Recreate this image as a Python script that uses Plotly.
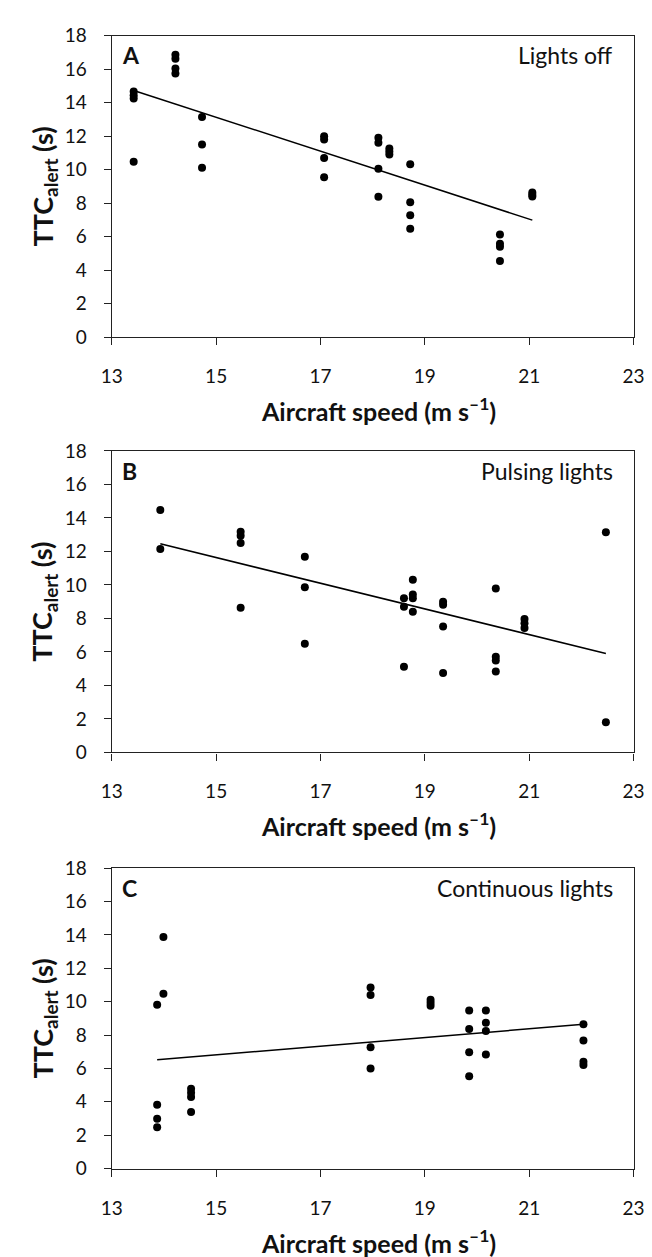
import numpy as np
import plotly.graph_objects as go

# ---- data ----
speed_A = [13.42, 13.42, 13.42, 13.42,
           14.22, 14.22, 14.22, 14.22,
           14.73, 14.73, 14.73,
           17.07, 17.07, 17.07, 17.07,
           18.11, 18.11, 18.11, 18.11,
           18.32, 18.32, 18.32,
           18.72, 18.72, 18.72, 18.72,
           20.44, 20.44, 20.44, 20.44,
           21.06, 21.06, 21.06]
ttc_A = [14.67, 14.44, 14.25, 10.47,
         16.86, 16.62, 16.04, 15.75,
         13.15, 11.5, 10.12,
         12.0, 11.8, 10.7, 9.55,
         11.9, 11.6, 10.06, 8.38,
         11.27, 11.08, 10.9,
         10.33, 8.05, 7.27, 6.47,
         6.13, 5.57, 5.4, 4.55,
         8.64, 8.5, 8.4]

speed_B = [13.93, 13.93,
           15.47, 15.47, 15.47, 15.47,
           16.70, 16.70, 16.70,
           18.60, 18.60, 18.60,
           18.77, 18.77, 18.77, 18.77,
           19.35, 19.35, 19.35, 19.35,
           20.36, 20.36, 20.36, 20.36,
           20.91, 20.91, 20.91,
           22.47, 22.47]
ttc_B = [14.48, 12.15,
         13.17, 12.93, 12.5, 8.63,
         11.68, 9.86, 6.48,
         9.21, 8.69, 5.11,
         10.31, 9.43, 9.2, 8.39,
         9.0, 8.82, 7.51, 4.74,
         9.78, 5.71, 5.48, 4.83,
         7.96, 7.71, 7.43,
         13.15, 1.8]

speed_C = [13.87, 13.87, 13.87, 13.87,
           13.99, 13.99,
           14.52, 14.52, 14.52, 14.52,
           17.96, 17.96, 17.96, 17.96,
           19.11, 19.11, 19.11,
           19.85, 19.85, 19.85, 19.85,
           20.17, 20.17, 20.17, 20.17,
           22.04, 22.04, 22.04, 22.04]
ttc_C = [9.81, 3.82, 2.98, 2.47,
         13.87, 10.48,
         4.78, 4.54, 4.29, 3.39,
         10.85, 10.4, 7.27, 5.99,
         10.12, 9.93, 9.75,
         9.48, 8.36, 6.97, 5.54,
         9.48, 8.74, 8.24, 6.83,
         8.65, 7.68, 6.4, 6.2]

# trend lines (slope, intercept)
trend_A = (-1.014, 28.34)
trend_B = (-0.767, 23.14)
trend_C = (0.26, 2.914)

panel_letters = ["A", "B", "C"]
panel_names = ["Lights off", "Pulsing lights", "Continuous lights"]
x_ticks = [13, 15, 17, 19, 21, 23]
y_ticks = [0, 2, 4, 6, 8, 10, 12, 14, 16, 18]
x_title = "<b>Aircraft speed (m s<sup>–1</sup>)</b>"
y_title = "<b>TTC<sub>alert</sub> (s)</b>"

W, H = 652, 1257
FONT = "Lato"
INK = "#111"
# plot-area pixel positions (left, right) and (top, bottom) per panel
x0px, x1px = 96, 636
panels_px = [(16, 323), (439, 746), (864, 1170)]

fig = go.Figure()
datasets = [(speed_A, ttc_A, trend_A), (speed_B, ttc_B, trend_B), (speed_C, ttc_C, trend_C)]

for i, ((xs, ys, (m, b)), (top, bot)) in enumerate(zip(datasets, panels_px)):
    n = "" if i == 0 else str(i + 1)
    xa, ya = "x" + n, "y" + n
    fig.add_trace(go.Scatter(x=xs, y=ys, mode="markers",
                             marker=dict(color="black", size=8),
                             xaxis=xa, yaxis=ya, showlegend=False))
    xl = np.array([min(xs), max(xs)])
    fig.add_trace(go.Scatter(x=xl, y=m * xl + b, mode="lines",
                             line=dict(color="black", width=1.5),
                             xaxis=xa, yaxis=ya, showlegend=False))
    dom_y = [1 - bot / H, 1 - top / H]
    axis_common = dict(showgrid=False, zeroline=False, showline=True,
                       linecolor="#222", linewidth=1.4, mirror=True,
                       ticks="outside", ticklen=7, tickcolor="#222", tickwidth=1.4,
                       tickfont=dict(family=FONT, size=19, color=INK))
    fig.layout["xaxis" + n] = dict(
        axis_common, domain=[x0px / W, x1px / W], anchor=ya,
        range=[13, 23], tickvals=x_ticks, ticklabelstandoff=15)
    fig.layout["yaxis" + n] = dict(
        axis_common, domain=dom_y, anchor=xa,
        range=[0, 18], tickvals=y_ticks, ticklabelstandoff=13)
    h = bot - top
    # panel letter and condition name
    fig.add_annotation(x=0.016, y=1 - 20 / h, xref=xa + " domain", yref=ya + " domain",
                       text="<b>" + panel_letters[i] + "</b>", showarrow=False,
                       xanchor="left", yanchor="middle",
                       font=dict(family=FONT, size=23, color=INK))
    fig.add_annotation(x=1 - 19 / (x1px - x0px), y=1 - 20 / h,
                       xref=xa + " domain", yref=ya + " domain",
                       text=panel_names[i], showarrow=False,
                       xanchor="right", yanchor="middle",
                       font=dict(family=FONT, size=23, color=INK))
    # axis titles
    fig.add_annotation(x=372 / W, y=1 - (bot + 74) / H, xref="paper", yref="paper",
                       text=x_title, showarrow=False, xanchor="center", yanchor="middle",
                       font=dict(family=FONT, size=25, color=INK))
    fig.add_annotation(x=26 / W, y=1 - (top + bot) / 2 / H, xref="paper", yref="paper",
                       text=y_title, showarrow=False, textangle=-90,
                       xanchor="center", yanchor="middle",
                       font=dict(family=FONT, size=27, color=INK))

fig.update_layout(width=W, height=H, margin=dict(l=0, r=0, t=0, b=0),
                  plot_bgcolor="white", paper_bgcolor="white",
                  font=dict(family=FONT, color=INK))
fig.write_html("out.html")
